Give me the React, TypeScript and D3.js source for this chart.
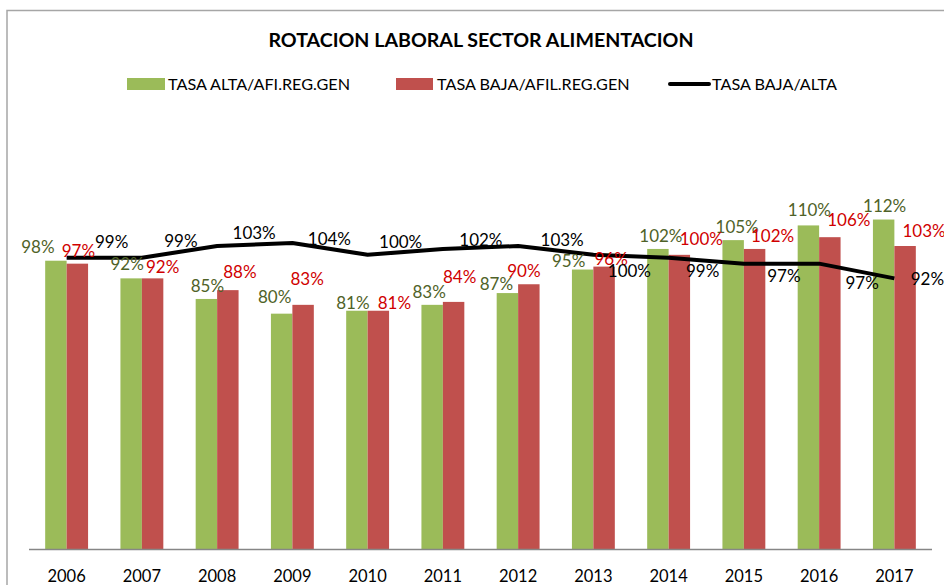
import React, { useEffect, useRef } from "react";
import * as d3 from "d3";

const years = ["2006", "2007", "2008", "2009", "2010", "2011", "2012", "2013", "2014", "2015", "2016", "2017"];
const altaRate = [98, 92, 85, 80, 81, 83, 87, 95, 102, 105, 110, 112];
const bajaRate = [97, 92, 88, 83, 81, 84, 90, 96, 100, 102, 106, 103];
const bajaAltaRatio = [99, 99, 103, 104, 100, 102, 103, 100, 99, 97, 97, 92];

const seriesNames = ["TASA ALTA/AFI.REG.GEN", "TASA BAJA/AFIL.REG.GEN", "TASA BAJA/ALTA"];

const FONT = "Lato, 'Open Sans', sans-serif";
const GREEN = "#9BBB59";
const RED = "#C0504D";

// hand-placed data labels in the original: [dx, dy] nudges from the default spot
const altaNudge = [[-18, -8], [-4, -8], [1, -7], [-7, -11], [-4, -2], [-3, -7], [-11, -3], [-14, -3], [3, -7], [4, -7], [1, -9], [1, -8]];
const bajaNudge = [[1, -7], [10, -5], [12, -12], [4, -20], [16, -2], [6, -19], [-5, -7], [7, -2], [22, -10], [18, -7], [19, -11], [19, -9]];
const ratioNudge = [[45, -10], [39, -11], [37, -7], [37, 2], [33, -7], [38, -3], [44, 0], [36, 22], [34, 19], [40, 18], [43, 25], [33, 7]];

const App = () => {
  const svgRef = useRef<SVGSVGElement | null>(null);

  useEffect(() => {
    const width = 944;
    const height = 585;
    const svg = d3.select(svgRef.current);
    svg.selectAll("*").remove();
    svg.attr("width", width).attr("height", height);

    svg.append("rect").attr("width", width).attr("height", height).attr("fill", "#fff");

    // chart frame (runs off the right / bottom edge)
    svg
      .append("rect")
      .attr("x", 7)
      .attr("y", 10.5)
      .attr("width", width + 20)
      .attr("height", height + 20)
      .attr("fill", "none")
      .attr("stroke", "#A6A6A6")
      .attr("stroke-width", 1.5);

    const x = d3.scaleBand().domain(years).range([29, 932]);
    const y = d3.scaleLinear().domain([0, 120]).range([549, 196]);
    const bw = x.bandwidth() * 0.285;
    const cx = (d: string) => x(d)! + x.bandwidth() / 2;

    // bars
    const bars = svg.append("g");
    bars
      .selectAll("rect.alta")
      .data(years)
      .join("rect")
      .attr("class", "alta")
      .attr("x", (d) => cx(d) - bw)
      .attr("y", (d, i) => y(altaRate[i]))
      .attr("width", bw)
      .attr("height", (d, i) => y(0) - y(altaRate[i]))
      .attr("fill", GREEN);
    bars
      .selectAll("rect.baja")
      .data(years)
      .join("rect")
      .attr("class", "baja")
      .attr("x", (d) => cx(d))
      .attr("y", (d, i) => y(bajaRate[i]))
      .attr("width", bw)
      .attr("height", (d, i) => y(0) - y(bajaRate[i]))
      .attr("fill", RED);

    // x axis line
    svg
      .append("line")
      .attr("x1", 29)
      .attr("x2", 932)
      .attr("y1", y(0) + 0.5)
      .attr("y2", y(0) + 0.5)
      .attr("stroke", "#868686")
      .attr("stroke-width", 1.5);

    svg
      .append("g")
      .selectAll("text")
      .data(years)
      .join("text")
      .attr("x", (d) => cx(d))
      .attr("y", 582)
      .attr("text-anchor", "middle")
      .attr("font-family", FONT)
      .attr("font-size", 16.5)
      .attr("fill", "#000")
      .text((d) => d);

    // ratio line
    const line = d3
      .line<number>()
      .x((d, i) => cx(years[i]))
      .y((d) => y(d));
    svg
      .append("path")
      .datum(bajaAltaRatio)
      .attr("d", line)
      .attr("fill", "none")
      .attr("stroke", "#000")
      .attr("stroke-width", 4)
      .attr("stroke-linejoin", "round");

    // data labels
    const labels = svg.append("g").attr("font-family", FONT).attr("font-size", 17).attr("text-anchor", "middle");
    labels
      .selectAll("text.alta")
      .data(altaRate)
      .join("text")
      .attr("class", "alta")
      .attr("x", (d, i) => cx(years[i]) - bw / 2 + altaNudge[i][0])
      .attr("y", (d, i) => y(d) + altaNudge[i][1])
      .attr("fill", "#4F6228")
      .text((d) => `${d}%`);
    labels
      .selectAll("text.baja")
      .data(bajaRate)
      .join("text")
      .attr("class", "baja")
      .attr("x", (d, i) => cx(years[i]) + bw / 2 + bajaNudge[i][0])
      .attr("y", (d, i) => y(d) + bajaNudge[i][1])
      .attr("fill", "#D00000")
      .text((d) => `${d}%`);
    labels
      .selectAll("text.ratio")
      .data(bajaAltaRatio)
      .join("text")
      .attr("class", "ratio")
      .attr("x", (d, i) => cx(years[i]) + ratioNudge[i][0])
      .attr("y", (d, i) => y(d) + ratioNudge[i][1])
      .attr("fill", "#000")
      .text((d) => `${d}%`);

    // title
    svg
      .append("text")
      .attr("x", 481)
      .attr("y", 47)
      .attr("text-anchor", "middle")
      .attr("font-family", FONT)
      .attr("font-weight", "bold")
      .attr("font-size", 19.6)
      .attr("fill", "#000")
      .text("ROTACION LABORAL SECTOR ALIMENTACION");

    // legend
    const legend = svg.append("g").attr("font-family", FONT).attr("font-size", 16.2);
    legend.append("rect").attr("x", 127).attr("y", 78).attr("width", 38).attr("height", 12).attr("fill", GREEN);
    legend.append("text").attr("x", 168).attr("y", 90).text(seriesNames[0]);
    legend.append("rect").attr("x", 396).attr("y", 78).attr("width", 37).attr("height", 12).attr("fill", RED);
    legend.append("text").attr("x", 437).attr("y", 90).text(seriesNames[1]);
    legend
      .append("line")
      .attr("x1", 670)
      .attr("x2", 709)
      .attr("y1", 84)
      .attr("y2", 84)
      .attr("stroke", "#000")
      .attr("stroke-width", 4)
      .attr("stroke-linecap", "round");
    legend.append("text").attr("x", 712).attr("y", 90).text(seriesNames[2]);
  }, []);

  return <svg ref={svgRef} style={{ position: "absolute", left: 0, top: 0, display: "block" }} />;
};

export default App;
